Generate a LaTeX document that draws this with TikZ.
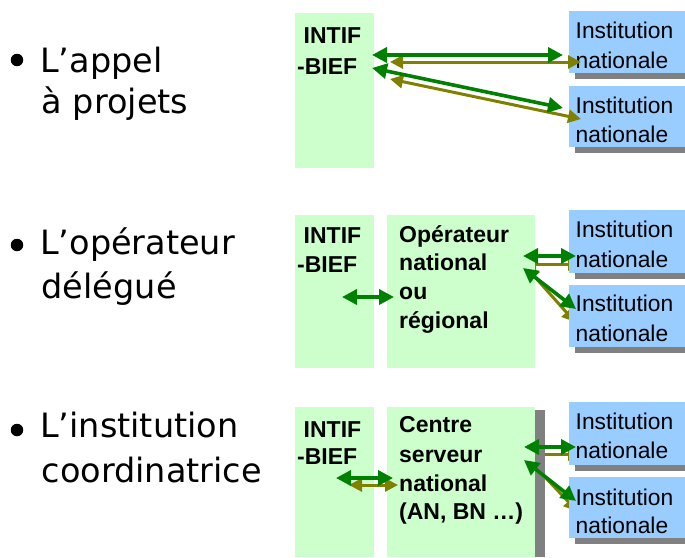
\documentclass[tikz,border=0pt]{standalone}
\usepackage{fontspec}
\newfontfamily\boxfont{Liberation Sans}
\newfontfamily\leftfont{DejaVu Sans}
\usetikzlibrary{arrows.meta,shadows}
\definecolor{boxgreen}{RGB}{204,255,204}
\definecolor{boxblue}{RGB}{153,204,255}
\definecolor{shadowgray}{RGB}{128,128,128}
\definecolor{arrgreen}{RGB}{0,128,0}
\definecolor{arrolive}{RGB}{128,128,0}
\begin{document}
\begin{tikzpicture}[x=1pt,y=-1pt,
  gbox/.style={fill=boxgreen, draw=none, inner sep=0pt, outer sep=0pt, anchor=north west},
  bbox/.style={fill=boxblue, draw=none, inner sep=0pt, outer sep=0pt, anchor=north west,
    minimum width=116pt, drop shadow={shadow xshift=6pt, shadow yshift=-6pt, fill=shadowgray, opacity=1}},
  btext/.style={font=\boxfont\fontsize{22.8}{27}\selectfont, anchor=base west, inner sep=0pt},
  bbtext/.style={font=\boxfont\bfseries\fontsize{23}{27}\selectfont, anchor=base west, inner sep=0pt},
  ltext/.style={font=\leftfont\fontsize{33.5}{40}\selectfont, anchor=base west, inner sep=0pt},
  bulletdot/.style={circle, fill=black, inner sep=0pt, minimum size=12.5pt},
  tipg/.tip={Triangle[length=15pt,width=15pt]},
  tipo/.tip={Triangle[length=13pt,width=13pt]},
  garrow/.style={draw=arrgreen, line width=3.6pt, {tipg}-{tipg}},
  oarrow/.style={draw=arrolive, line width=3pt, {tipo}-{tipo}},
  graybar/.style={fill=shadowgray, draw=none, inner sep=0pt, outer sep=0pt, anchor=north west}
]
\useasboundingbox (0,0) rectangle (685,557);

% ---------- left column ----------
\node[bulletdot] (bu1) at (17,60) {};
\node[ltext] (l1a) at (40,72) {L’appel};
\node[ltext] (l1b) at (41.5,113) {à projets};
\node[bulletdot] (bu2) at (17,245) {};
\node[ltext] (l2a) at (40,254) {L’opérateur};
\node[ltext] (l2b) at (41.5,298) {délégué};
\node[bulletdot] (bu3) at (17,430) {};
\node[ltext] (l3a) at (40,437) {L’institution};
\node[ltext] (l3b) at (41.5,482) {coordinatrice};

% ---------- coordinates for hidden olive arrows (rows 2 and 3) ----------
\coordinate (o2ha) at (523,264);
\coordinate (o2hb) at (581,264);
\coordinate (o2da) at (526,267);
\coordinate (o2db) at (575,322);
\coordinate (o3ha) at (523,454);
\coordinate (o3hb) at (581,454);
\coordinate (o3da) at (529,460);
\coordinate (o3db) at (577,511);
\draw[oarrow] (o2ha) -- (o2hb);
\draw[oarrow] (o2da) -- (o2db);
\draw[oarrow] (o3ha) -- (o3hb);
\draw[oarrow] (o3da) -- (o3db);

% ---------- row 1 boxes ----------
\node[gbox, minimum width=79pt, minimum height=155pt] (r1intif) at (295,13) {};
\node[bbox, minimum height=62pt] (r1inst1) at (569,11) {};
\node[bbox, minimum height=61pt] (r1inst2) at (569,86) {};

% ---------- row 2 boxes ----------
\node[gbox, minimum width=79pt, minimum height=153pt] (r2intif) at (295,215) {};
\node[gbox, minimum width=148pt, minimum height=153pt] (r2op) at (387,215) {};
\node[bbox, minimum height=63pt] (r2inst1) at (569,210) {};
\node[bbox, minimum height=62pt] (r2inst2) at (569,285) {};

% ---------- row 3 boxes ----------
\node[graybar, minimum width=10pt, minimum height=147pt] (r3bar) at (535,410) {};
\node[gbox, minimum width=79pt, minimum height=150pt] (r3intif) at (295,407) {};
\node[gbox, minimum width=148pt, minimum height=150pt] (r3cs) at (387,407) {};
\node[bbox, minimum height=63pt] (r3inst1) at (569,402) {};
\node[bbox, minimum height=61pt] (r3inst2) at (569,477) {};

% ---------- box texts ----------
\node[bbtext] (r1t1) at (303.5,43) {INTIF};
\node[bbtext] (r1t2) at (297,74) {-BIEF};
\node[btext] (r1i1a) at (575.5,38) {Institution};
\node[btext] (r1i1b) at (575.5,68) {nationale};
\node[btext] (r1i2a) at (575.5,113) {Institution};
\node[btext] (r1i2b) at (575.5,142) {nationale};

\node[bbtext] (r2t1) at (303.5,243) {INTIF};
\node[bbtext] (r2t2) at (297,272) {-BIEF};
\node[bbtext] (r2o1) at (399,242) {Opérateur};
\node[bbtext] (r2o2) at (399,270) {national};
\node[bbtext] (r2o3) at (399,299) {ou};
\node[bbtext] (r2o4) at (399,328) {régional};
\node[btext] (r2i1a) at (575.5,237) {Institution};
\node[btext] (r2i1b) at (575.5,267) {nationale};
\node[btext] (r2i2a) at (575.5,311) {Institution};
\node[btext] (r2i2b) at (575.5,341) {nationale};

\node[bbtext] (r3t1) at (303.5,437) {INTIF};
\node[bbtext] (r3t2) at (297,464) {-BIEF};
\node[bbtext] (r3c1) at (399,432) {Centre};
\node[bbtext] (r3c2) at (399,462) {serveur};
\node[bbtext] (r3c3) at (399,491) {national};
\node[bbtext] (r3c4) at (399,519) {(AN, BN …)};
\node[btext] (r3i1a) at (575.5,429) {Institution};
\node[btext] (r3i1b) at (575.5,458) {nationale};
\node[btext] (r3i2a) at (575.5,505) {Institution};
\node[btext] (r3i2b) at (575.5,533) {nationale};

% ---------- row 1 arrows ----------
\coordinate (g1a) at (372,55);
\coordinate (g1b) at (563,55);
\coordinate (o1a) at (390,62);
\coordinate (o1b) at (581,62);
\coordinate (g2a) at (372,68);
\coordinate (g2b) at (563,108);
\coordinate (o2a) at (390,79);
\coordinate (o2b) at (581,119);
\draw[oarrow] (o1a) -- (o1b);
\draw[garrow] (g1a) -- (g1b);
\draw[oarrow] (o2a) -- (o2b);
\draw[garrow] (g2a) -- (g2b);

% ---------- row 2 arrows ----------
\coordinate (g3a) at (342,297);
\coordinate (g3b) at (394,297);
\coordinate (g4a) at (523,256);
\coordinate (g4b) at (576,256);
\coordinate (g5a) at (523,268);
\coordinate (g5b) at (576,309);
\draw[garrow] (g3a) -- (g3b);
\draw[garrow] (g4a) -- (g4b);
\draw[garrow] (g5a) -- (g5b);

% ---------- row 3 arrows ----------
\coordinate (o6a) at (349,485);
\coordinate (o6b) at (398,485);
\coordinate (g6a) at (336,478);
\coordinate (g6b) at (393,478);
\coordinate (g7a) at (524,447);
\coordinate (g7b) at (576,447);
\coordinate (g8a) at (524,460);
\coordinate (g8b) at (576,501);
\draw[oarrow] (o6a) -- (o6b);
\draw[garrow] (g6a) -- (g6b);
\draw[garrow] (g7a) -- (g7b);
\draw[garrow] (g8a) -- (g8b);
\end{tikzpicture}
\end{document}
